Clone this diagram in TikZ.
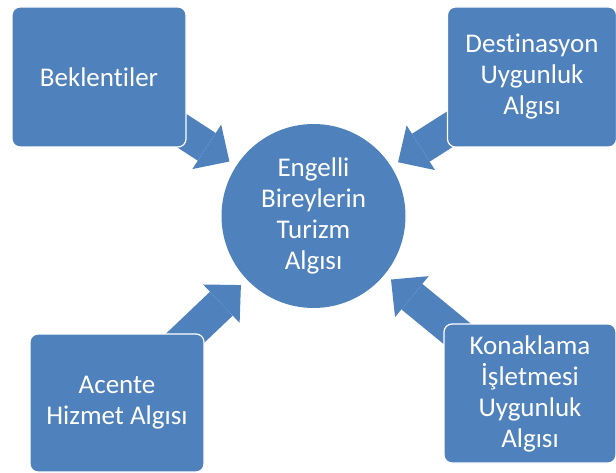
\documentclass[tikz,border=0pt]{standalone}
\usepackage{fontspec}
\setmainfont[Ligatures=NoCommon]{Carlito}
\usetikzlibrary{arrows.meta,backgrounds}
\definecolor{boxblue}{HTML}{4F81BD}
\begin{document}
\begin{tikzpicture}[x=1pt, y=-1pt,
        box/.style={rectangle, rounded corners=8pt, fill=boxblue, draw=white, line width=1.2pt,
            text=white, align=center, inner sep=0pt, font=\fontsize{27}{31}\selectfont},
        hub/.style={circle, fill=boxblue, text=white, align=center, inner sep=0pt,
            minimum size=184pt, font=\fontsize{27}{31}\selectfont},
        blockarrow/.style={draw=boxblue, line width=33pt, shorten >=8pt,
            -{Triangle[length=27pt, width=53pt, line width=0pt, fill=boxblue]}}]
        \useasboundingbox (0, 0) rectangle (616, 473);

        \node[hub] (0) at (313.5, 216) {Engelli\\Bireylerin\\Turizm\\Algısı};
        \node[box, minimum width=174pt, minimum height=140pt] (1) at (99, 77) {Beklentiler};
        \node[box, minimum width=169pt, minimum height=140pt] (2) at (532, 77) {Destinasyon\\Uygunluk\\Algısı};
        \node[box, minimum width=174pt, minimum height=138pt] (3) at (117, 403) {Acente\\Hizmet Algısı};
        \node[box, minimum width=172pt, minimum height=139pt] (4) at (530, 393.5) {Konaklama\\İşletmesi\\Uygunluk\\Algısı};

        \begin{scope}[on background layer]
            \draw[blockarrow] (1.center) -- (0);
            \draw[blockarrow] (2.center) -- (0);
            \draw[blockarrow] (3.center) -- (0);
            \draw[blockarrow] (4.center) -- (0);
        \end{scope}
    \end{tikzpicture}
\end{document}
